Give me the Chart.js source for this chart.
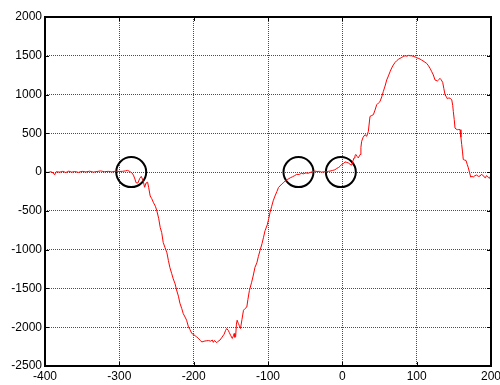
<!DOCTYPE html>
<html lang="en">
<head>
    <meta charset="UTF-8">
    <title>Signal trace</title>
    <script src="https://cdn.jsdelivr.net/npm/chart.js@4.4.1/dist/chart.umd.min.js"></script>
    <style>
        html, body { margin: 0; padding: 0; background: #fff; overflow: hidden; }
        #chart-container { width: 500px; height: 385px; overflow: hidden; }
    </style>
</head>
<body>
    <div id="chart-container">
        <!-- a bit wider than the window so the last x label gets cut like in the original -->
        <canvas id="myChart" width="508" height="385"></canvas>
    </div>

    <script>
        // trace values
        const traceX = [-400,-396,-392,-389,-387,-385,-380,-376,-372,-368,-364,-360,-355,-350,-345,-340,-335,-330,-325,-320,-315,-310,-305,-300,-296,-292,-289,-286,
            -283,-281,-279,-277.5,-275,-272.5,-270.5,-268,-266,-264,-262,-260.5,-258.5,-256.5,-254,-251.5,-249.5,-247,-245,-243,-241,-238.5,-236,-234,-232,-229.5,-227.5,-225,-223,-220.5,-218.5,-216,-214,-211.5,-209.5,-207,-205,-202.5,-200.5,-198,-196,-193,-191,-189,-186,-183,-180,-177,-175,-173.5,-172,-169,-167,-164.5,-162,-159,-157,-155.5,-153.5,-152,-150,-148,-146.5,-145.5,-144.5,-143.5,-142.5,-141.5,-140,-138.5,-137,-135,-133,-131,-128.5,-127,-125,-122,-120,-117.5,-115,-113,-110.8,-108,-106,-104,-101,-99,-97.3,-95,-93,-90.6,-88,-86,-84,-81,-79,-77,-74,-72,-70,-67,-64,-61.5,-58,-55,-52.5,-49,-46,-43.5,-40,-37,-34,-31,-28,-25.6,-22,-19,-16.6,-13,-10,-7.6,-5,-3,-0.9,1.5,3.6,6,8,10.5,12.6,14.5,15.7,17,18.4,20,21.5,23,23.8,25,26,28,30.5,32.8,35,37.2,39.5,41.7,44,46.2,48.5,50.7,53,55.1,57.5,59.7,62,64.2,66.5,68.6,71,73.1,75.5,77.6,80,82,84.3,87,89,91,93.3,96,98,100,103,106.7,110,113.5,116,118,120,122.4,124.7,127.8,129.5,131.5,133,135,136.5,138.2,140,141.3,143,145,147.2,148.5,149.3,150.5,151.6,153,154.8,156.5,158.3,159.5,160.6,161.7,162.7,164.5,166.4,168,169.5,171,172.7,174.5,176,178.5,180.7,183,185.2,187,188.8,190.5,192.4,194,195,196.5,197.8,199,200];
        const traceY = [0,-5,5,-10,-35,5,0,10,-5,12,0,8,-3,10,2,12,0,8,15,5,10,3,12,8,10,15,22,8,
            -10,-40,-90,-137,-140,-80,-55,-110,-195,-140,-130,-200,-308,-340,-395,-440,-500,-600,-714,-780,-906,-975,-1040,-1140,-1230,-1310,-1376,-1440,-1520,-1600,-1690,-1760,-1825,-1870,-1910,-1996,-2030,-2081,-2090,-2110,-2124,-2150,-2170,-2190,-2180,-2175,-2172,-2180,-2165,-2195,-2170,-2200,-2180,-2165,-2130,-2090,-2040,-2017,-2040,-2070,-2110,-2145,-2110,-2081,-2130,-2120,-1960,-1910,-1950,-1980,-2017,-1900,-1782,-1760,-1740,-1640,-1526,-1420,-1340,-1227,-1170,-1090,-1013,-920,-840,-756,-680,-600,-522,-440,-370,-308,-250,-200,-179,-150,-135,-115,-95,-85,-73,-60,-45,-29,-30,-15,-22,-10,-15,-5,5,13,8,10,0,4,6,10,13,22,30,47,60,75,99,110,132,125,119,100,90,150,183,215,227,200,183,210,227,320,397,450,483,462,526,718,730,740,800,868,890,910,970,1038,1110,1188,1240,1295,1345,1381,1415,1436,1455,1466,1480,1490,1500,1495,1505,1500,1500,1490,1485,1474,1465,1445,1425,1402,1370,1338,1300,1253,1188,1175,1190,1209,1190,1158,1080,996,970,945,955,953,932,860,782,680,568,555,547,550,547,450,355,260,163,155,150,100,55,0,-64,-55,-64,-45,-38,-55,-51,-30,-38,-60,-73,-45,-51,-70,-81,-55,-51];

        // marked spots (circles)
        const circleX = [-284, -59, -2];
        const circleY = [0, 0, 0];

        const xTicks = [-400, -300, -200, -100, 0, 100, 200];
        const yTicks = [-2500, -2000, -1500, -1000, -500, 0, 500, 1000, 1500, 2000];

        const tracePoints = traceX.map((x, i) => ({ x: x, y: traceY[i] }));
        const circlePoints = circleX.map((x, i) => ({ x: x, y: circleY[i] }));

        // box around plot + small inward ticks
        const framePlugin = {
            id: 'frame',
            afterDatasetsDraw(chart) {
                const { ctx, chartArea: a, scales } = chart;
                ctx.save();
                ctx.strokeStyle = '#000';
                ctx.lineWidth = 1;
                ctx.beginPath();
                xTicks.forEach(v => {
                    const px = Math.round(scales.x.getPixelForValue(v)) + 0.5;
                    ctx.moveTo(px, a.top); ctx.lineTo(px, a.top + 4);
                    ctx.moveTo(px, a.bottom); ctx.lineTo(px, a.bottom - 4);
                });
                yTicks.forEach(v => {
                    const py = Math.round(scales.y.getPixelForValue(v)) + 0.5;
                    ctx.moveTo(a.right, py); ctx.lineTo(a.right - 4, py);
                    ctx.moveTo(a.left, py); ctx.lineTo(a.left + 4, py);
                });
                ctx.stroke();
                ctx.lineWidth = 2;
                ctx.strokeRect(a.left, a.top, a.right - a.left, a.bottom - a.top);
                ctx.restore();
            }
        };

        const gridOpts = {
            color: 'rgba(0,0,0,0.7)',
            lineWidth: 1,
            drawTicks: false
        };

        const tickFont = { family: 'Liberation Sans, Arial, sans-serif', size: 12 };

        const ctx = document.getElementById('myChart').getContext('2d');
        const myChart = new Chart(ctx, {
            type: 'scatter',
            data: {
                datasets: [{
                    data: tracePoints,
                    showLine: true,
                    borderColor: '#ff0000',
                    borderWidth: 1,
                    pointRadius: 0,
                    tension: 0
                }, {
                    data: circlePoints,
                    showLine: false,
                    pointStyle: 'circle',
                    pointRadius: 15,
                    borderColor: '#000',
                    backgroundColor: 'rgba(0,0,0,0)',
                    borderWidth: 2
                }]
            },
            options: {
                responsive: false,
                animation: false,
                plugins: {
                    legend: { display: false },
                    tooltip: { enabled: false }
                },
                layout: { padding: { top: 15, right: 0, left: 0, bottom: 0 } },
                scales: {
                    x: {
                        type: 'linear',
                        min: -400,
                        max: 200,
                        grid: gridOpts,
                        border: { display: false, dash: [1, 1] },
                        ticks: {
                            stepSize: 100,
                            padding: 3,
                            color: '#000',
                            maxRotation: 0,
                            autoSkip: false,
                            font: tickFont,
                            callback: v => String(v)
                        },
                        afterFit(scale) {
                            scale.height = 19;
                        }
                    },
                    y: {
                        type: 'linear',
                        min: -2500,
                        max: 2000,
                        grid: gridOpts,
                        border: { display: false, dash: [1, 1] },
                        ticks: {
                            stepSize: 500,
                            padding: 3,
                            color: '#000',
                            autoSkip: false,
                            font: tickFont,
                            callback: v => String(v)
                        },
                        afterFit(scale) {
                            scale.width = 45;
                            scale.paddingTop = 0;
                            scale.paddingBottom = 0;
                        }
                    }
                }
            },
            plugins: [framePlugin]
        });
    </script>
</body>
</html>
